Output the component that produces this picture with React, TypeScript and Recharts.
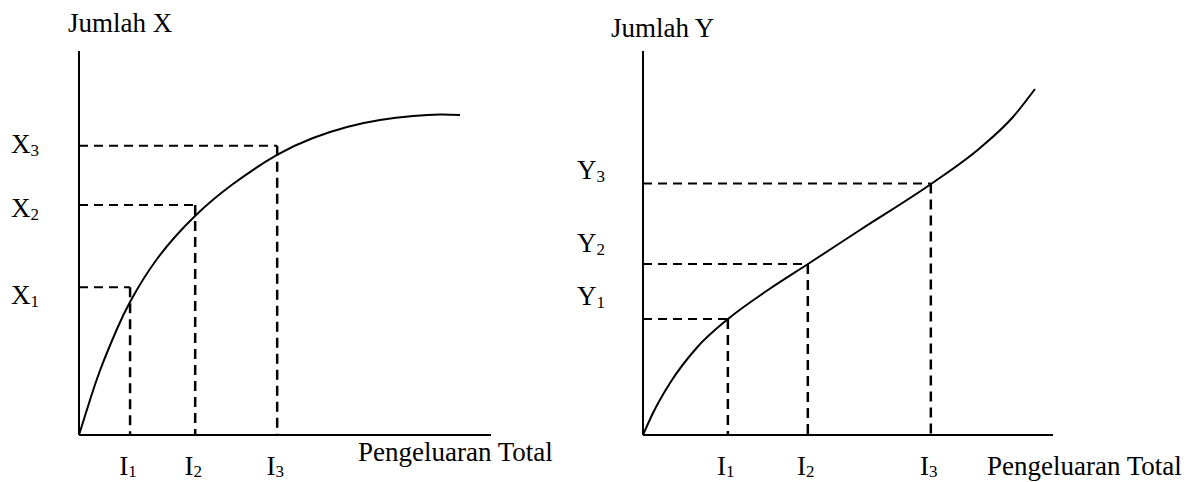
import React from "react";
import { LineChart, Line, XAxis, YAxis, ReferenceLine, Label } from "recharts";

const FONT = '"Liberation Serif", "Times New Roman", Times, serif';

// left panel: Jumlah X against total spending (concave, levels off)
const xSpending = [0, 1.94, 5.1, 9.22, 12.38, 18.93, 28.16, 37.38, 48.06, 56.8, 65.05, 73.06, 81.07, 87.62, 92.48];
const xQuantity = [0, 6.64, 16.8, 27.6, 34.64, 45.83, 57.03, 65.36, 72.92, 77.34, 80.21, 82.03, 83.07, 83.46, 83.33];
const xIncomes = [12.4, 28.2, 48.1];
const xLevels = [38.5, 59.9, 75.3];

// right panel: Jumlah Y against total spending (bends upward)
const ySpending = [0, 2.44, 6.59, 13.17, 20.73, 30.49, 40.24, 52.93, 70.24, 82.2, 90.24, 95.61];
const yQuantity = [0, 5.73, 13.54, 22.79, 30.21, 37.76, 44.53, 53.39, 65.36, 74.74, 82.81, 90.1];
const yIncomes = [20.7, 40.2, 70.2];
const yLevels = [30.2, 44.5, 65.5];

const subscripts = ["1", "2", "3"];
const incomeLetter = "I";
const spendTitle = "Pengeluaran Total";

type PanelProps = {
  spending: number[];
  quantity: number[];
  incomes: number[];
  levels: number[];
  letter: string;
  title: string;
  curve: "natural" | "monotone";
  left: number;
  width: number;
  yAxisWidth: number;
  marginRight: number;
  levelX: number;
  levelDy: number[];
  titleX: number;
  titleY: number;
  spendX: number;
  spendY: number;
};

const hDash = { stroke: "#000", strokeWidth: 2, strokeDasharray: "9 6" };
const vDash = { stroke: "#000", strokeWidth: 2.5, strokeDasharray: "10 6" };

function Sub({ x, y, main, sub, anchor, subDy }: { x: number; y: number; main: string; sub: string; anchor: "start" | "middle"; subDy: number }) {
  return (
    <text x={x} y={y} fontFamily={FONT} fontSize={27} fill="#000" textAnchor={anchor}>
      <tspan>{main}</tspan>
      <tspan fontSize={17} dy={subDy}>{sub}</tspan>
    </text>
  );
}

function Panel(p: PanelProps) {
  const data = p.spending.map((s, i) => ({ s, q: p.quantity[i] }));
  return (
    <div style={{ position: "absolute", left: p.left, top: 0 }}>
      <LineChart width={p.width} height={482} data={data} margin={{ top: 51, right: p.marginRight, bottom: 0, left: 0 }}>
        <XAxis
          dataKey="s"
          type="number"
          domain={[0, 100]}
          ticks={p.incomes}
          interval={0}
          height={47}
          tickLine={false}
          axisLine={{ stroke: "#000", strokeWidth: 2 }}
          tick={(t: any) => (
            <Sub x={t.x - 2} y={475} main={incomeLetter} sub={subscripts[p.incomes.indexOf(t.payload.value)]} anchor="middle" subDy={2} />
          )}
        >
          <Label
            content={() => (
              <text x={p.spendX} y={p.spendY} fontFamily={FONT} fontSize={27} fill="#000">
                {spendTitle}
              </text>
            )}
          />
        </XAxis>
        <YAxis
          type="number"
          domain={[0, 100]}
          ticks={p.levels}
          interval={0}
          width={p.yAxisWidth}
          tickLine={false}
          axisLine={{ stroke: "#000", strokeWidth: 2 }}
          tick={(t: any) => {
            const i = p.levels.indexOf(t.payload.value);
            return <Sub x={p.levelX} y={t.y + p.levelDy[i]} main={p.letter} sub={subscripts[i]} anchor="start" subDy={3} />;
          }}
        >
          <Label
            content={() => (
              <text x={p.titleX} y={p.titleY} fontFamily={FONT} fontSize={27} fill="#000">
                {p.title}
              </text>
            )}
          />
        </YAxis>
        {p.levels.map((lv, i) => (
          <ReferenceLine key={"h" + i} segment={[{ x: 0, y: lv }, { x: p.incomes[i], y: lv }]} {...hDash} />
        ))}
        {p.levels.map((lv, i) => (
          <ReferenceLine key={"v" + i} segment={[{ x: p.incomes[i], y: lv }, { x: p.incomes[i], y: 0 }]} {...vDash} />
        ))}
        <Line dataKey="q" type={p.curve} stroke="#000" strokeWidth={2} dot={false} activeDot={false} isAnimationActive={false} />
      </LineChart>
    </div>
  );
}

export default function App() {
  return (
    <div style={{ position: "absolute", left: 0, top: 0, width: 1192, height: 482, background: "#fff" }}>
      <Panel
        spending={xSpending}
        quantity={xQuantity}
        incomes={xIncomes}
        levels={xLevels}
        letter="X"
        title="Jumlah X"
        curve="natural"
        left={0}
        width={560}
        yAxisWidth={79}
        marginRight={69}
        levelX={11}
        levelDy={[17, 12, 7]}
        titleX={68}
        titleY={32}
        spendX={358}
        spendY={461}
      />
      <Panel
        spending={ySpending}
        quantity={yQuantity}
        incomes={yIncomes}
        levels={yLevels}
        letter="Y"
        title="Jumlah Y"
        curve="monotone"
        left={560}
        width={632}
        yAxisWidth={83}
        marginRight={139}
        levelX={17}
        levelDy={[-14, -12, -4]}
        titleX={51}
        titleY={37}
        spendX={427}
        spendY={475}
      />
    </div>
  );
}
